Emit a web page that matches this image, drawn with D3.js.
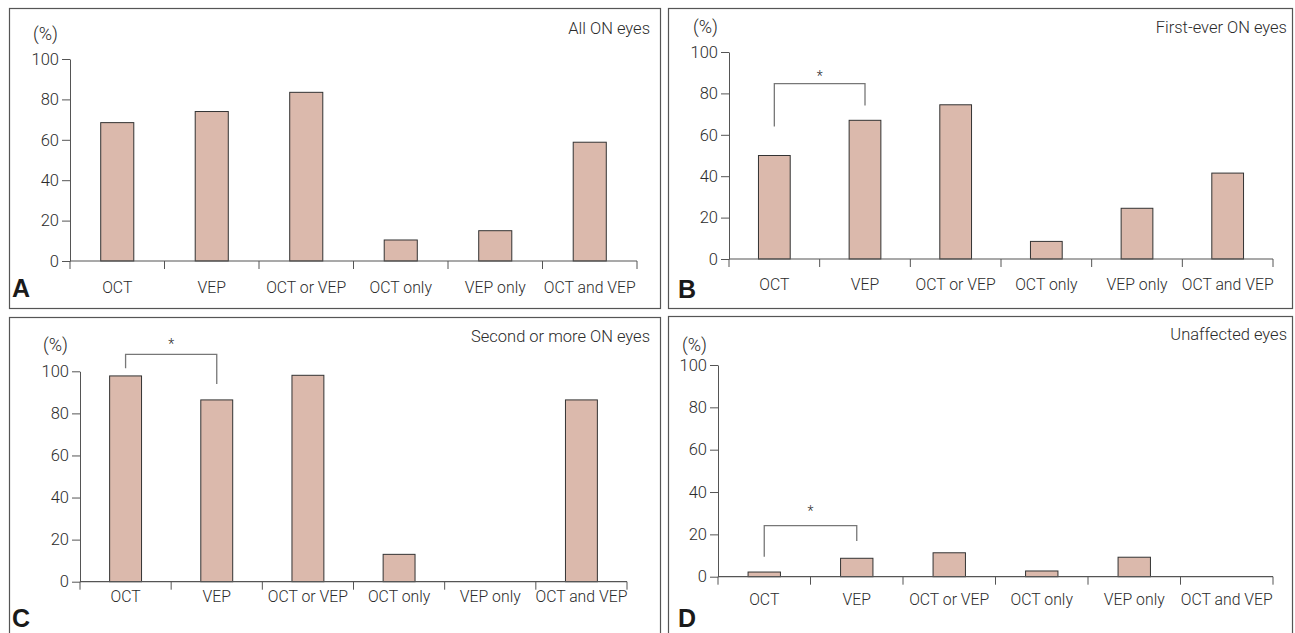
<!DOCTYPE html>
<html>
<head>
<meta charset="utf-8">
<script src="https://cdn.jsdelivr.net/npm/d3@7"></script>
<style>
  body { margin: 0; background: #fff; }
  svg { display: block; }
  .lbl { font-family: Roboto, "Noto Sans", sans-serif; font-weight: 300; fill: #2b2b2b; }
</style>
</head>
<body>
<div id="chart"></div>
<script>
// values (%)
const categories = ["OCT", "VEP", "OCT or VEP", "OCT only", "VEP only", "OCT and VEP"];
const yTicks = [0, 20, 40, 60, 80, 100];
const allOnEyes = [68.5, 74, 83.5, 10.4, 15, 58.8];
const firstEverOnEyes = [50, 67, 74.5, 8.5, 24.5, 41.5];
const secondOrMoreOnEyes = [97.8, 86.4, 98.1, 13, 0, 86.4];
const unaffectedEyes = [2.2, 8.7, 11.3, 2.7, 9.2, 0];
const panelTitles = ["All ON eyes", "First-ever ON eyes", "Second or more ON eyes", "Unaffected eyes"];
const panelLetters = ["A", "B", "C", "D"];
// significance brackets (OCT vs VEP): ends and top in % units
const brackets = [
    null,
    { from: "OCT", to: "VEP", left: 64, top: 84.7, right: 74.2, star: 89.4 },
    { from: "OCT", to: "VEP", left: 101.4, top: 108, right: 94, star: 114 },
    { from: "OCT", to: "VEP", left: 9.4, top: 24.1, right: 16.9, star: 32 }
];
const series = [allOnEyes, firstEverOnEyes, secondOrMoreOnEyes, unaffectedEyes];

const width = 1295;
const height = 633;

// pixel layout of each panel
const layout = [
    { fx: 9, fy: 8, fw: 651, fh: 300, x0: 70, x1: 637, y0: 261, y1: 59, tx: 650, ty: 34, px: 33, py: 40, lx: 12, ly: 297, by: 293 },
    { fx: 668, fy: 8, fw: 624, fh: 300, x0: 729, x1: 1273, y0: 259, y1: 52, tx: 1287, ty: 33, px: 693, py: 33, lx: 678, ly: 298, by: 290 },
    { fx: 9, fy: 317, fw: 651, fh: 340, x0: 80, x1: 627, y0: 581.7, y1: 371.3, tx: 650, ty: 342, px: 43, py: 351, lx: 12, ly: 627, by: 602 },
    { fx: 668, fy: 316, fw: 624, fh: 340, x0: 718, x1: 1273, y0: 576.7, y1: 365, tx: 1287, ty: 340, px: 682, py: 351, lx: 678, ly: 627, by: 605 }
];

const svg = d3.select("#chart").append("svg").attr("width", width).attr("height", height);

series.forEach((values, i) => {
    const L = layout[i];
    const g = svg.append("g");

    // panel frame
    g.append("rect")
        .attr("x", L.fx + 0.5).attr("y", L.fy + 0.5)
        .attr("width", L.fw).attr("height", L.fh)
        .attr("fill", "none").attr("stroke", "#555").attr("stroke-width", 1.2);

    const xScale = d3.scaleBand().domain(categories).range([L.x0, L.x1]).paddingInner(0.65).paddingOuter(0.325);
    const yScale = d3.scaleLinear().domain([0, 100]).range([L.y0, L.y1]);
    const step = xScale.step();

    // bars
    g.selectAll(".bar")
        .data(values.map((v, j) => ({ cat: categories[j], v: v })).filter(d => d.v > 0))
        .join("rect")
        .attr("x", d => xScale(d.cat))
        .attr("width", xScale.bandwidth())
        .attr("y", d => yScale(d.v))
        .attr("height", d => yScale(0) - yScale(d.v))
        .attr("fill", "#dbb9ac")
        .attr("stroke", "#333")
        .attr("stroke-width", 1);

    // y axis
    const yAxis = g.append("g")
        .attr("transform", `translate(${L.x0},0)`)
        .call(d3.axisLeft(yScale).tickValues(yTicks).tickSize(8).tickSizeOuter(0).tickPadding(3));
    yAxis.select(".domain").attr("stroke", "#555");
    yAxis.selectAll(".tick line").attr("stroke", "#555");
    yAxis.selectAll(".tick text").attr("class", "lbl").style("font-size", "16.5px").attr("fill", null);

    // x axis line with ticks at category boundaries
    g.append("line")
        .attr("x1", L.x0).attr("x2", L.x1)
        .attr("y1", yScale(0)).attr("y2", yScale(0))
        .attr("stroke", "#555").attr("stroke-width", 1.2);
    g.selectAll(".bound")
        .data(d3.range(categories.length + 1))
        .join("line")
        .attr("x1", k => L.x0 + k * step).attr("x2", k => L.x0 + k * step)
        .attr("y1", yScale(0)).attr("y2", yScale(0) + 8)
        .attr("stroke", "#555");

    // category labels
    g.selectAll(".cat")
        .data(categories)
        .join("text")
        .attr("class", "lbl")
        .attr("x", d => xScale(d) + xScale.bandwidth() / 2)
        .attr("y", L.by)
        .attr("text-anchor", "middle")
        .style("font-size", "15.8px")
        .text(d => d);

    // unit label, title, panel letter
    g.append("text").attr("class", "lbl").attr("x", L.px).attr("y", L.py)
        .style("font-size", "18px").text("(%)");
    g.append("text").attr("class", "lbl").attr("x", L.tx).attr("y", L.ty)
        .attr("text-anchor", "end").style("font-size", "16.5px").text(panelTitles[i]);
    g.append("text").attr("x", L.lx).attr("y", L.ly)
        .style("font-family", "'Liberation Sans', Arial, sans-serif")
        .style("font-weight", "bold").style("font-size", "25px").attr("fill", "#1a1a1a")
        .text(panelLetters[i]);

    // significance bracket
    const b = brackets[i];
    if (b) {
        const xl = xScale(b.from) + xScale.bandwidth() / 2;
        const xr = xScale(b.to) + xScale.bandwidth() / 2;
        g.append("path")
            .attr("d", d3.line()([[xl, yScale(b.left)], [xl, yScale(b.top)], [xr, yScale(b.top)], [xr, yScale(b.right)]]))
            .attr("fill", "none").attr("stroke", "#777").attr("stroke-width", 1.3);
        g.append("text").attr("class", "lbl")
            .attr("x", (xl + xr) / 2).attr("y", yScale(b.star) + 7)
            .attr("text-anchor", "middle").style("font-size", "14px").text("*");
    }
});
</script>
</body>
</html>
